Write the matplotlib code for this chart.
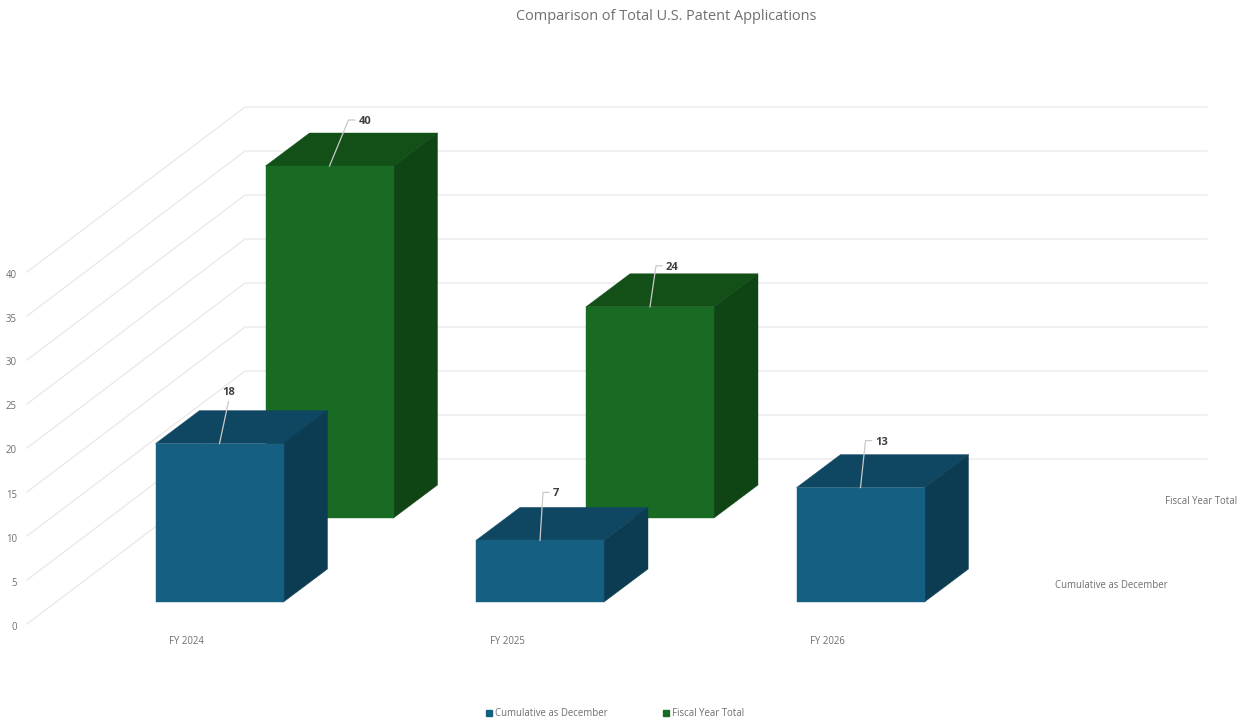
import numpy as np
import matplotlib
matplotlib.use("Agg")
import matplotlib.pyplot as plt
from matplotlib.patches import Polygon, Patch

categories = ["FY 2024", "FY 2025", "FY 2026"]
cumulative = [18, 7, 13]
fiscal_total = [40, 24, np.nan]
y_ticks = [0, 5, 10, 15, 20, 25, 30, 35, 40]
title = "Comparison of Total U.S. Patent Applications"
series_names = ["Cumulative as December", "Fiscal Year Total"]

# how the fake 3d is laid out, all in screen pixels
W, H = 1238, 721
PX_X = 320.5   # one category
PX_Y = 8.8     # one application
X0, Y0 = 219.5, 602   # centre / floor of the first front bar
BAR_W = 128
BAR_DX, BAR_DY = 44, 33
ROW_DX, ROW_DY = 110, 84

TEXT = "#6f6f6f"
GRID = "#e8e8e8"
FONT = "Open Sans"
SMALL = 6.9

plt.rcParams["font.family"] = [FONT, "DejaVu Sans"]

fig = plt.figure(figsize=(W / 100, H / 100), dpi=100)
ax = fig.add_axes([0, 0, 1, 1])
ax.set_xlim(-X0 / PX_X, (W - X0) / PX_X)
ax.set_ylim(-(H - Y0) / PX_Y, Y0 / PX_Y)
ax.axis("off")


def sx(px):
    return px / PX_X


def sy(px):
    return px / PX_Y


# walls
for v in y_ticks:
    ax.plot([sx(27 - X0), sx(245 - X0), sx(1207 - X0)],
            [v - sy(22), v + sy(143), v + sy(143)],
            color=GRID, lw=0.9, zorder=1)
    ax.text(sx(17 - X0), v - sy(25), str(v), color=TEXT, fontsize=SMALL,
            ha="right", va="center")


def bar_3d(i, value, dx, dy, front, top, side, z):
    if np.isnan(value):
        return
    left = i - sx(BAR_W / 2) + sx(dx)
    right = i + sx(BAR_W / 2) + sx(dx)
    floor = sy(dy)
    roof = value + sy(dy)
    ddx, ddy = sx(BAR_DX), sy(BAR_DY)
    ax.add_patch(Polygon([(left, roof), (right, roof), (right + ddx, roof + ddy), (left + ddx, roof + ddy)],
                         fc=top, ec=top, lw=0.3, zorder=z))
    ax.add_patch(Polygon([(right, floor), (right + ddx, floor + ddy), (right + ddx, roof + ddy), (right, roof)],
                         fc=side, ec=side, lw=0.3, zorder=z))
    ax.add_patch(Polygon([(left, floor), (right, floor), (right, roof), (left, roof)],
                         fc=front, ec=front, lw=0.3, zorder=z))


def leader(i, value, dx, dy, off_x, off_y, elbow, z=6):
    x0 = i + sx(dx)
    y0 = value + sy(dy)
    xs = [x0, x0 + sx(off_x)]
    ys = [y0, y0 + sy(off_y)]
    if elbow:
        xs.append(xs[-1] + sx(6))
        ys.append(ys[-1])
        ax.text(xs[-1] + sx(4), ys[-1] - sy(1.5), f"{value:g}", fontsize=8, fontweight="bold",
                color="#404040", ha="left", va="center", zorder=z)
    else:
        ax.text(xs[-1], ys[-1] + sy(9.5), f"{value:g}", fontsize=8, fontweight="bold",
                color="#404040", ha="center", va="center", zorder=z)
    ax.plot(xs, ys, color="#c9c9c9", lw=0.9, zorder=z)


back_style = ("#196b24", "#125018", "#0f4415")
front_style = ("#156082", "#0f4662", "#0c3c52")

for i, v in enumerate(fiscal_total):
    bar_3d(i, v, ROW_DX, ROW_DY, *back_style, 2 + i * 0.1)
for i, v in enumerate(cumulative):
    bar_3d(i, v, 0, 0, *front_style, 3 + i * 0.1)

# value labels with their leader lines
leader(0, fiscal_total[0], ROW_DX, ROW_DY, 19, 46, True)
leader(1, fiscal_total[1], ROW_DX, ROW_DY, 6, 41, True)
leader(0, cumulative[0], 0, 0, 9, 42, False)
leader(1, cumulative[1], 0, 0, 3, 48, True)
leader(2, cumulative[2], 0, 0, 5, 47, True)

for i, c in enumerate(categories):
    ax.text(i - sx(33), -sy(40), c, color=TEXT, fontsize=SMALL, ha="center", va="center")

# series names on the depth axis
ax.text(sx(1237 - X0), sy(100), series_names[1], color=TEXT, fontsize=SMALL,
        ha="right", va="center")
ax.text(sx(1168 - X0), sy(16), series_names[0], color=TEXT, fontsize=SMALL,
        ha="right", va="center")

ax.text(sx(666.5 - X0), sy(Y0 - 16), title, color=TEXT, fontsize=10.45,
        ha="center", va="center")

fig.legend(handles=[Patch(color=front_style[0], label=series_names[0]),
                    Patch(color=back_style[0], label=series_names[1])],
           loc="center", bbox_to_anchor=(615 / W, 1 - 714 / H), ncol=2, frameon=False,
           fontsize=SMALL, labelcolor=TEXT, handlelength=0.6, handleheight=0.6,
           handletextpad=0.3, columnspacing=5.8, borderpad=0)

fig.savefig("out.png", dpi=100)
